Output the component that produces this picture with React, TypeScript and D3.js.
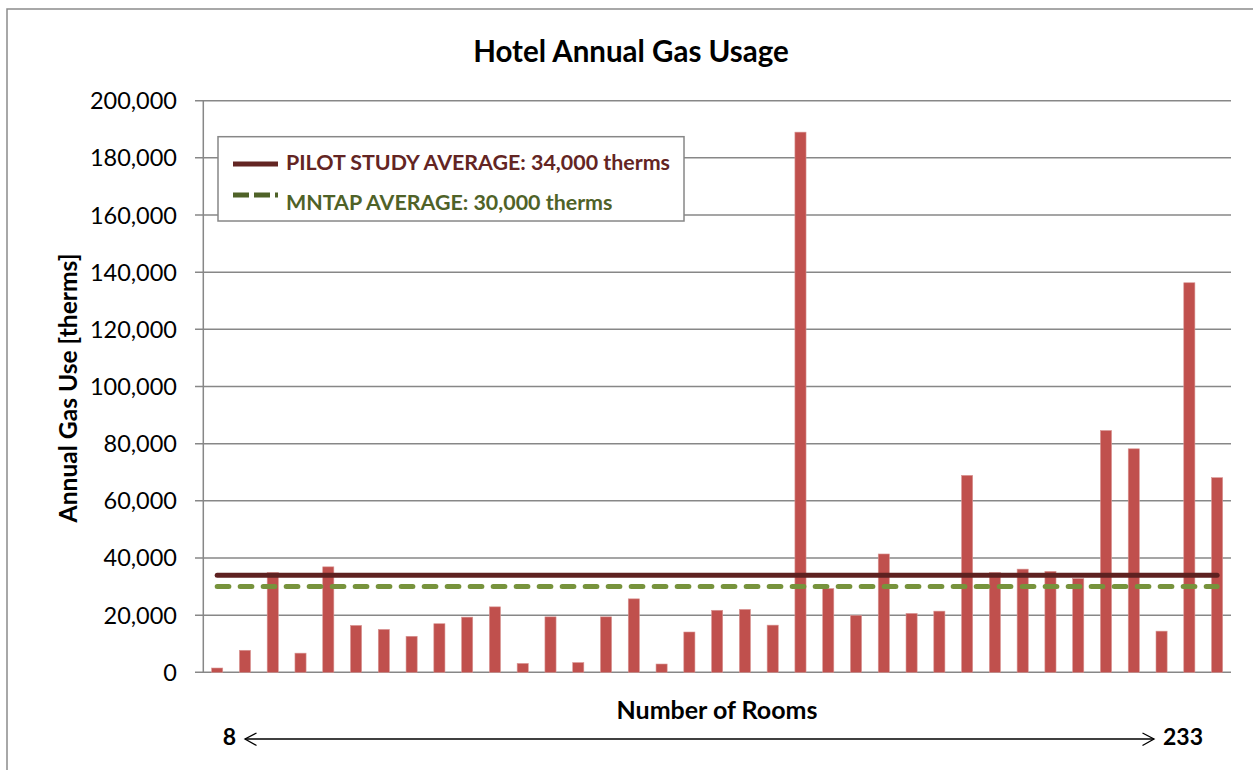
import React from 'react';
import * as d3 from 'd3';

// ---- Data ----
const hotels: string[] = Array.from({ length: 37 }, (_, i) => `Hotel ${i + 1}`);
const gasUse: number[] = [
  1500, 7700, 34900, 6700, 36900, 16400, 15000, 12600, 17000, 19300,
  22900, 3100, 19400, 3400, 19400, 25700, 2900, 14100, 21700, 22000,
  16500, 189000, 29300, 19900, 41400, 20600, 21400, 68900, 34900, 36100,
  35300, 32800, 84600, 78200, 14400, 136300, 68100,
];
const yTicks: number[] = [0, 20000, 40000, 60000, 80000, 100000, 120000, 140000, 160000, 180000, 200000];
const pilotAverage = 34000;
const mntapAverage = 30000;
const legendLabels: string[] = ['PILOT STUDY AVERAGE: 34,000 therms', 'MNTAP AVERAGE: 30,000 therms'];
const roomRange: string[] = ['8', '233'];

const W = 1253;
const H = 770;
const FONT = 'Lato, "Noto Sans", sans-serif';

export default function App() {
  const left = 203.3, right = 1231, top = 100.7, bottom = 672.3;
  const x = d3.scaleBand<string>().domain(hotels).range([left, right]).paddingInner(0.6).paddingOuter(0.3);
  const y = d3.scaleLinear().domain([0, 200000]).range([bottom, top]);
  const fmt = d3.format(',');
  const firstC = (x(hotels[0]) ?? 0) + x.bandwidth() / 2;
  const lastC = (x(hotels[hotels.length - 1]) ?? 0) + x.bandwidth() / 2;
  const grid = '#878787';

  return (
    <svg width={W} height={H} style={{ position: 'absolute', left: 0, top: 0, display: 'block', background: '#fff' }}>
      {/* outer chart border */}
      <path d={`M7,${H + 5} V9 H${W + 5}`} fill="none" stroke="#8c8c8c" strokeWidth={1.5} />

      <text x={631} y={62} textAnchor="middle" fontFamily={FONT} fontWeight={700} fontSize={29.5} fill="#000">
        Hotel Annual Gas Usage
      </text>

      {/* gridlines + y ticks */}
      {yTicks.map((t) => (
        <g key={t}>
          <line x1={195} x2={right} y1={y(t)} y2={y(t)} stroke={grid} strokeWidth={1.5} />
          <text x={177} y={y(t) + 8.5} textAnchor="end" fontFamily={FONT} fontSize={23.5} fill="#000">
            {fmt(t)}
          </text>
        </g>
      ))}
      <line x1={left} x2={left} y1={top} y2={bottom} stroke={grid} strokeWidth={1.5} />

      {/* bars */}
      {gasUse.map((v, i) => (
        <rect key={i} x={x(hotels[i])} y={y(v)} width={x.bandwidth()} height={bottom - y(v)} fill="#C0504D" stroke="#D99694" strokeWidth={0.6} />
      ))}

      {/* average lines */}
      <line x1={firstC} x2={lastC} y1={y(pilotAverage)} y2={y(pilotAverage)} stroke="#5E2120" strokeWidth={5} strokeLinecap="round" />
      <line x1={firstC} x2={lastC} y1={y(mntapAverage)} y2={y(mntapAverage)} stroke="#77933C" strokeWidth={5} strokeLinecap="round" strokeDasharray="11.7 11.3" />

      {/* legend */}
      <rect x={218} y={136.7} width={466} height={84.3} fill="#fff" stroke={grid} strokeWidth={1.5} />
      <line x1={233} x2={278} y1={164} y2={164} stroke="#632523" strokeWidth={5} />
      <line x1={233} x2={278} y1={195} y2={195} stroke="#4F6228" strokeWidth={5} strokeDasharray="16 5" />
      <text x={286} y={170} fontFamily={FONT} fontWeight={700} fontSize={21.4} fill="#632523">{legendLabels[0]}</text>
      <text x={286} y={210} fontFamily={FONT} fontWeight={700} fontSize={21.4} fill="#4F6228">{legendLabels[1]}</text>

      {/* y axis title */}
      <text transform={`translate(77,388) rotate(-90)`} textAnchor="middle" fontFamily={FONT} fontWeight={700} fontSize={24.6} fill="#000">
        Annual Gas Use [therms]
      </text>

      {/* x axis title */}
      <text x={717} y={719} textAnchor="middle" fontFamily={FONT} fontWeight={700} fontSize={25} fill="#000">
        Number of Rooms
      </text>

      {/* room range arrow */}
      <text x={236} y={745} textAnchor="end" fontFamily={FONT} fontWeight={700} fontSize={23} fill="#000">{roomRange[0]}</text>
      <text x={1163} y={745} textAnchor="start" fontFamily={FONT} fontWeight={700} fontSize={23} fill="#000">{roomRange[1]}</text>
      <line x1={245} x2={1154} y1={739} y2={739} stroke="#000" strokeWidth={1.3} />
      <path d="M256.5,733 L245,739 L256.5,745.5" fill="none" stroke="#000" strokeWidth={1.3} />
      <path d="M1142.5,733 L1154,739 L1142.5,745.5" fill="none" stroke="#000" strokeWidth={1.3} />
    </svg>
  );
}
